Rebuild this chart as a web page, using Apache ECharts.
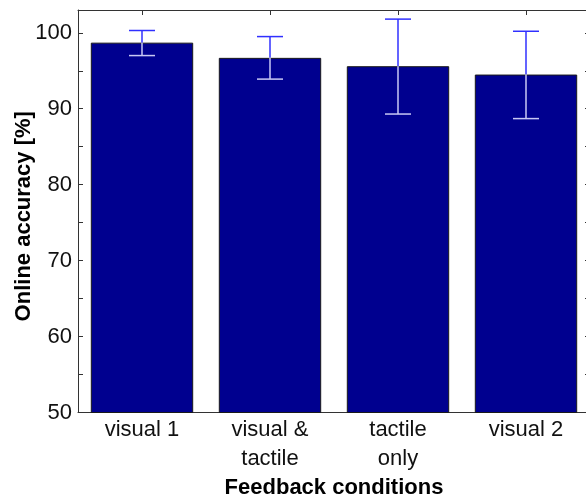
<!DOCTYPE html>
<html>
<head>
<meta charset="utf-8">
<script src="https://cdn.jsdelivr.net/npm/echarts@6/dist/echarts.min.js"></script>
<style>
html,body{margin:0;padding:0;background:#fff;}
#c{width:586px;height:498px;}
</style>
</head>
<body>
<div id="c"></div>
<script>
const categories = ['visual 1', 'visual &\ntactile', 'tactile\nonly', 'visual 2'];
const meanValues = [98.7, 96.7, 95.6, 94.5];
const errUpper = [100.3, 99.5, 101.8, 100.2];
const errLower = [97.0, 93.9, 89.3, 88.7];
const yTickValues = [50, 60, 70, 80, 90, 100];

const FONT = '"Liberation Sans", Arial, sans-serif';
const chart = echarts.init(document.getElementById('c'), null, {renderer: 'canvas'});

const errData = categories.map((c, i) => [i, meanValues[i], errUpper[i], errLower[i]]);

const option = {
  animation: false,
  backgroundColor: '#fff',
  grid: {left: 78, top: 10, width: 512, height: 402.5, containLabel: false, outerBoundsMode: 'none'},
  xAxis: [
    {
      type: 'category',
      data: categories,
      position: 'bottom',
      axisLine: {show: true, lineStyle: {color: '#333', width: 1}},
      axisTick: {show: false},
      axisLabel: {fontFamily: FONT, fontSize: 22, color: '#111', lineHeight: 29, margin: 3},
      name: 'Feedback conditions',
      nameLocation: 'middle',
      nameMoveOverlap: false,
      nameGap: 64,
      nameTextStyle: {fontFamily: FONT, fontSize: 22, fontWeight: 'bold', color: '#000'}
    },
    {
      type: 'category',
      data: categories,
      position: 'top',
      axisLine: {show: true, lineStyle: {color: '#333', width: 1}},
      axisTick: {show: true, inside: true, alignWithLabel: true, length: 5, lineStyle: {color: '#333'}},
      axisLabel: {show: false}
    }
  ],
  yAxis: [
    {
      type: 'value',
      min: 50, max: 103, interval: 5,
      position: 'left',
      splitLine: {show: false},
      axisLine: {show: true, lineStyle: {color: '#333', width: 1}},
      axisTick: {show: true, inside: true, length: 5, lineStyle: {color: '#333'}},
      axisLabel: {
        fontFamily: FONT, fontSize: 22, color: '#111', margin: 6, showMaxLabel: false,
        formatter: v => (yTickValues.indexOf(v) >= 0 ? String(v) : '')
      },
      name: 'Online accuracy [%]',
      nameLocation: 'middle',
      nameMoveOverlap: false,
      nameGap: 43,
      nameTextStyle: {fontFamily: FONT, fontSize: 22, fontWeight: 'bold', color: '#000', padding: [0, 10, 0, 0]}
    },
    {
      type: 'value',
      min: 50, max: 103, interval: 5,
      position: 'right',
      splitLine: {show: false},
      axisLine: {show: true, lineStyle: {color: '#333', width: 1}},
      axisTick: {show: true, inside: true, length: 5, lineStyle: {color: '#333'}},
      axisLabel: {show: false}
    }
  ],
  series: [
    {
      type: 'bar',
      data: meanValues,
      barWidth: '80%',
      itemStyle: {color: '#00008f', borderColor: '#1a1a1a', borderWidth: 1}
    },
    {
      type: 'custom',
      data: errData,
      z: 10,
      renderItem: function (params, api) {
        const idx = api.value(0);
        const pMean = api.coord([idx, api.value(1)]);
        const pHigh = api.coord([idx, api.value(2)]);
        const pLow = api.coord([idx, api.value(3)]);
        const half = 13;
        const blue = '#3030ff';
        const light = '#c8c8f4';
        return {
          type: 'group',
          children: [
            {type: 'line', shape: {x1: pHigh[0], y1: pHigh[1], x2: pMean[0], y2: pMean[1]}, style: {stroke: blue, lineWidth: 1.5}},
            {type: 'line', shape: {x1: pHigh[0] - half, y1: pHigh[1], x2: pHigh[0] + half, y2: pHigh[1]}, style: {stroke: blue, lineWidth: 1.5}},
            {type: 'line', shape: {x1: pMean[0], y1: pMean[1], x2: pLow[0], y2: pLow[1]}, style: {stroke: light, lineWidth: 1.5}},
            {type: 'line', shape: {x1: pLow[0] - half, y1: pLow[1], x2: pLow[0] + half, y2: pLow[1]}, style: {stroke: light, lineWidth: 1.5}}
          ]
        };
      }
    }
  ]
};
chart.setOption(option);
</script>
</body>
</html>
